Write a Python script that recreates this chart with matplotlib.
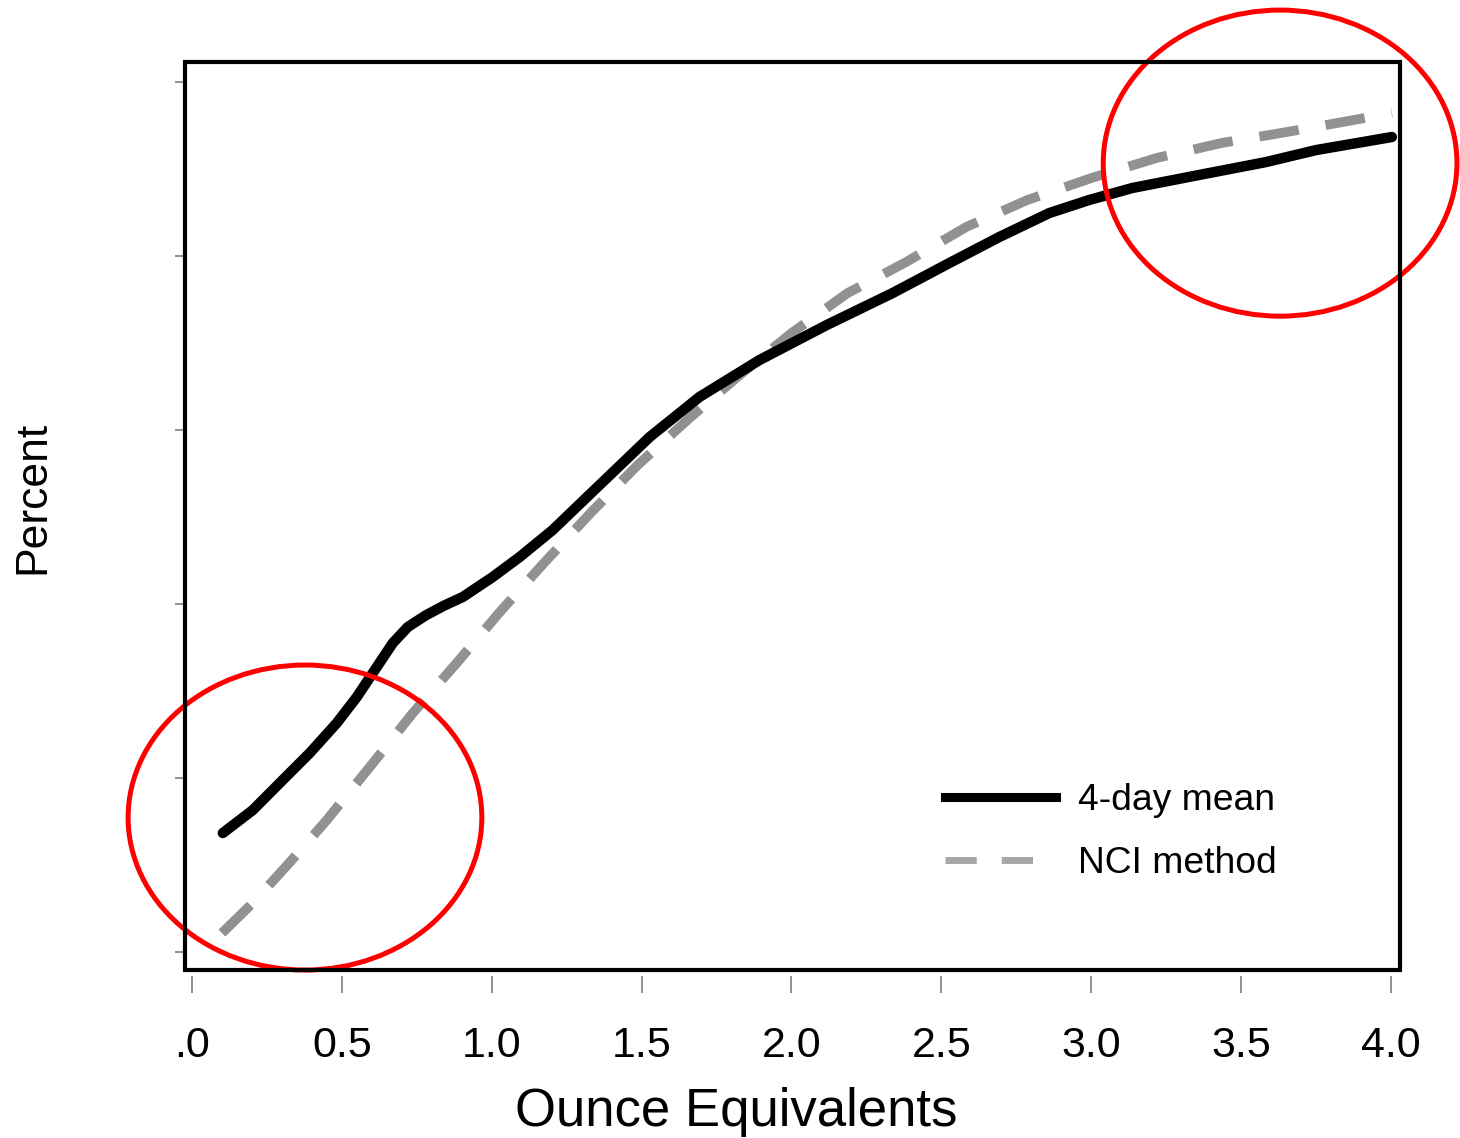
import matplotlib.pyplot as plt
from matplotlib.lines import Line2D
from matplotlib.patches import Ellipse, Rectangle

plt.rcParams['font.family'] = ['Liberation Sans', 'DejaVu Sans']

# curves (y is unlabelled, tick units)
x_mean = [0.103, 0.203, 0.303, 0.393, 0.483, 0.550, 0.603, 0.670, 0.720, 0.780,
          0.840, 0.903, 1.003, 1.093, 1.203, 1.327, 1.527, 1.693, 1.893, 2.117,
          2.337, 2.527, 2.693, 2.860, 2.993, 3.137, 3.360, 3.583, 3.750, 4.003]
y_mean = [0.684, 0.816, 0.989, 1.144, 1.316, 1.466, 1.603, 1.776, 1.868, 1.935,
          1.990, 2.040, 2.155, 2.270, 2.425, 2.630, 2.960, 3.190, 3.402, 3.603,
          3.787, 3.960, 4.109, 4.247, 4.322, 4.391, 4.466, 4.540, 4.609, 4.684]

x_nci = [0.100, 0.203, 0.327, 0.450, 0.593, 0.737, 0.883, 1.027, 1.177, 1.333,
         1.487, 1.660, 1.827, 2.000, 2.187, 2.383, 2.583, 2.787, 3.000, 3.217,
         3.433, 3.653, 3.877, 4.003]
y_nci = [0.109, 0.282, 0.517, 0.759, 1.063, 1.374, 1.661, 1.954, 2.241, 2.529,
         2.799, 3.069, 3.316, 3.557, 3.787, 3.966, 4.167, 4.322, 4.448, 4.563,
         4.649, 4.713, 4.782, 4.822]

x_ticks = [0, 0.5, 1.0, 1.5, 2.0, 2.5, 3.0, 3.5, 4.0]
x_labels = ['.0', '0.5', '1.0', '1.5', '2.0', '2.5', '3.0', '3.5', '4.0']
y_ticks = [0, 1, 2, 3, 4, 5]

# red highlight circles: (centre x, centre y, width, height)
circles = [(0.377, 0.773, 1.18, 1.753), (3.63, 4.534, 1.18, 1.759)]

fig = plt.figure(figsize=(14.6, 11.38), dpi=100)
ax = fig.add_axes([0.1267, 0.1476, 0.8322, 0.7979])

ax.plot(x_nci, y_nci, color='#919191', lw=7, linestyle=(0, (4.1, 2.8)),
        dash_capstyle='butt', dash_joinstyle='round')
ax.plot(x_mean, y_mean, color='black', lw=7.5, solid_capstyle='round',
        solid_joinstyle='round')

for cx, cy, w, h in circles:
    ax.add_patch(Ellipse((cx, cy), w, h, fill=False, edgecolor='red', lw=3.6,
                         clip_on=False, zorder=5))

ax.set_xlim(-0.0233, 4.03)
ax.set_ylim(-0.1034, 5.115)

for s in ax.spines.values():
    s.set_color('none')
ax.spines['bottom'].set_position(('outward', 4))
ax.add_patch(Rectangle((0, 0), 1, 1, transform=ax.transAxes, fill=False,
                       edgecolor='black', lw=3, clip_on=False, zorder=6))

ax.set_xticks(x_ticks)
ax.set_xticklabels(x_labels)
ax.set_yticks(y_ticks)
ax.set_yticklabels([])
ax.tick_params(axis='x', length=12, width=1.3, color='#888888', labelsize=31, pad=24)
ax.tick_params(axis='y', length=7, width=1.3, color='#888888')

ax.set_xlabel('Ounce Equivalents', fontsize=38)
ax.xaxis.set_label_coords(0.454, -0.129)
ax.set_ylabel('Percent', fontsize=32)
ax.yaxis.set_label_coords(-0.108, 0.52)

handles = [Line2D([], [], color='black', lw=6.5),
           Line2D([], [], color='#a6a6a6', lw=5, linestyle=(0, (4.5, 3.6)))]
ax.legend(handles, ['4-day mean', 'NCI method'], loc='center left',
          bbox_to_anchor=(0.6255, 0.152), frameon=False, fontsize=26.8,
          handlelength=2.98, handletextpad=0.6, labelspacing=0.73,
          borderpad=0, borderaxespad=0)

plt.savefig('out.png', dpi=100)
